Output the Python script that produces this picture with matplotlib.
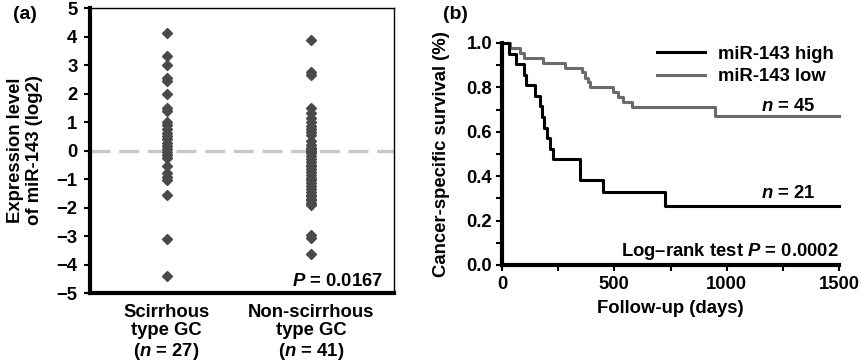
import numpy as np
import matplotlib
matplotlib.use("Agg")
import matplotlib.pyplot as plt
from matplotlib.ticker import MultipleLocator

plt.rcParams['font.family'] = ['Liberation Sans', 'DejaVu Sans']
plt.rcParams['font.weight'] = 'bold'
plt.rcParams['axes.labelweight'] = 'bold'
plt.rcParams['font.size'] = 13.3
plt.rcParams['mathtext.fontset'] = 'custom'
plt.rcParams['mathtext.it'] = 'Liberation Sans:italic:bold'
plt.rcParams['mathtext.rm'] = 'Liberation Sans:bold'
plt.rcParams['mathtext.bf'] = 'Liberation Sans:bold'

# === DATA (a) ===
group_labels = ["Scirrhous\ntype GC\n($n$ = 27)", "Non-scirrhous\ntype GC\n($n$ = 41)"]
scirrhous = [4.14, 3.3, 3.0, 2.55, 2.45, 1.97, 1.48, 1.38,
             1.0, 0.9, 0.75, 0.6, 0.5, 0.4, 0.25, 0.15, 0.05, -0.05, -0.15, -0.25,
             -0.56, -0.8, -0.92, -1.02, -1.55, -3.1, -4.4]
non_scirrhous = [3.88, 2.77, 2.65, 1.48,
                 1.3, 1.15, 1.0, 0.85, 0.75, 0.65, 0.55, 0.35, 0.2, 0.1, 0.05, 0.0,
                 -0.05, -0.1, -0.2, -0.3, -0.4, -0.5, -0.55, -0.65, -0.75, -0.85,
                 -0.95, -1.05, -1.15, -1.25, -1.35, -1.45, -1.55, -1.6, -1.7, -1.75,
                 -1.85, -1.9, -2.96, -3.07, -3.62]

# === DATA (b) ===
high_days = [0, 33, 62, 100, 108, 147, 170, 178, 185, 200, 212, 228, 348, 450, 724, 1500]
high_surv = [1.0, 0.952, 0.905, 0.857, 0.81, 0.762, 0.714, 0.667, 0.619, 0.571,
             0.524, 0.476, 0.381, 0.327, 0.265, 0.265]
low_days = [0, 36, 80, 100, 184, 280, 355, 369, 385, 392, 495, 518, 540, 577, 948, 1500]
low_surv = [1.0, 0.978, 0.956, 0.933, 0.911, 0.889, 0.867, 0.844, 0.822, 0.80,
            0.778, 0.756, 0.733, 0.711, 0.671, 0.671]

fig = plt.figure(figsize=(8.61, 3.64), dpi=100)

# === PANEL (a) ===
ax1 = fig.add_axes([0.1045, 0.195, 0.353, 0.783])
ax1.axhline(0, color='#c8c8c8', lw=2.4, linestyle=(0, (6, 2.6)), zorder=1)
for i, vals in enumerate([scirrhous, non_scirrhous]):
    ax1.plot(np.full(len(vals), i + 1), vals, 'D', ms=5.6, color='#4a4a4a',
             mec='#4a4a4a', zorder=3)
ax1.set_xlim(0.47, 2.57)
ax1.set_ylim(-5, 5)
ax1.set_yticks(range(-5, 6))
ax1.set_xticks([1, 2])
ax1.set_xticklabels(group_labels, linespacing=1.1)
ax1.tick_params(axis='x', length=0, pad=8)
ax1.tick_params(axis='y', length=4, width=1.5, pad=5)
for s in ['left', 'bottom']:
    ax1.spines[s].set_linewidth(3)
for s in ['top', 'right']:
    ax1.spines[s].set_linewidth(1)
ax1.set_ylabel("Expression level\nof miR-143 (log2)", va='center', linespacing=1.1)
ax1.yaxis.set_label_coords(-0.214, 0.5)
ax1.text(0.965, 0.04, "$P$ = 0.0167", transform=ax1.transAxes, ha='right', va='center')

# === PANEL (b) ===
ax2 = fig.add_axes([0.583, 0.272, 0.3915, 0.61])
ax2.step(low_days, low_surv, where='post', color='#6b6b6b', lw=2.2,
         label='miR-143 low', clip_on=False, zorder=2)
ax2.step(high_days, high_surv, where='post', color='black', lw=2.2,
         label='miR-143 high', clip_on=False, zorder=3)
ax2.set_xlim(0, 1500)
ax2.set_ylim(0, 1.0)
ax2.xaxis.set_major_locator(MultipleLocator(500))
ax2.xaxis.set_minor_locator(MultipleLocator(250))
ax2.yaxis.set_major_locator(MultipleLocator(0.2))
ax2.yaxis.set_minor_locator(MultipleLocator(0.1))
ax2.yaxis.set_major_formatter(plt.FormatStrFormatter('%.1f'))
ax2.tick_params(which='both', length=4, width=1.5)
ax2.tick_params(axis='y', pad=3)
ax2.tick_params(axis='x', pad=4)
ax2.spines['top'].set_visible(False)
ax2.spines['right'].set_visible(False)
for s in ['left', 'bottom']:
    ax2.spines[s].set_linewidth(3)
ax2.set_ylabel("Cancer-specific survival (%)", va='center')
ax2.yaxis.set_label_coords(-0.178, 0.5)
ax2.set_xlabel("Follow-up (days)", va='center')
ax2.xaxis.set_label_coords(0.5, -0.194)

h, l = ax2.get_legend_handles_labels()
ax2.legend(h[::-1], l[::-1], loc='upper right', bbox_to_anchor=(1.005, 1.02),
           frameon=False, handlelength=2.6, handletextpad=0.7, labelspacing=0.3,
           borderaxespad=0)
ax2.text(0.93, 0.716, "$n$ = 45", transform=ax2.transAxes, ha='right', va='center')
ax2.text(0.93, 0.324, "$n$ = 21", transform=ax2.transAxes, ha='right', va='center')
ax2.text(1.0, 0.06, "Log–rank test $P$ = 0.0002", transform=ax2.transAxes,
         ha='right', va='center')

fig.text(0.0151, 0.959, "(a)", ha='left', va='center', fontsize=14)
fig.text(0.5145, 0.959, "(b)", ha='left', va='center', fontsize=14)

fig.savefig("out.png", dpi=100)
